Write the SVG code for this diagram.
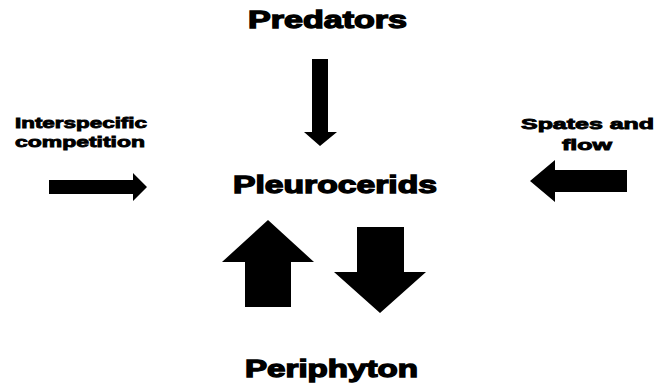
<svg xmlns="http://www.w3.org/2000/svg" width="670" height="385" viewBox="0 0 670 385">
<style>
.big{font-family:"Liberation Sans",Arial,sans-serif;font-weight:bold;font-size:23.5px;fill:#000;stroke:#000;stroke-width:1.3}
.sm{font-family:"Liberation Sans",Arial,sans-serif;font-weight:bold;font-size:15.5px;fill:#000;stroke:#000;stroke-width:0.9}
.arr{fill:#000;stroke:none}
</style>
<rect width="670" height="385" fill="#fff"/>
<g id="predators"><text class="big" x="248" y="28" textLength="159" lengthAdjust="spacingAndGlyphs">Predators</text></g>
<g id="interspecific"><text class="sm" x="15" y="128" textLength="132" lengthAdjust="spacingAndGlyphs">Interspecific</text><text class="sm" x="15" y="147" textLength="130" lengthAdjust="spacingAndGlyphs">competition</text></g>
<g id="spates"><text class="sm" x="521" y="129" textLength="133" lengthAdjust="spacingAndGlyphs">Spates and</text><text class="sm" x="562" y="150" textLength="50" lengthAdjust="spacingAndGlyphs">flow</text></g>
<g id="pleurocerids"><text class="big" x="233" y="193" textLength="204" lengthAdjust="spacingAndGlyphs">Pleurocerids</text></g>
<g id="periphyton"><text class="big" x="245" y="377" textLength="173" lengthAdjust="spacingAndGlyphs">Periphyton</text></g>
<g id="connectors">
<polygon class="arr" points="312,59 328,59 328,132 337,132 320,146 304,132 312,132"/>
<polygon class="arr" points="49,180 133,180 133,173 147,187 133,201 133,194 49,194"/>
<polygon class="arr" points="627,170 555,170 555,160 530,181 555,202 555,192 627,192"/>
<polygon class="arr" points="268,220 314,262 291,262 291,307 245,307 245,262 222,262"/>
<polygon class="arr" points="357,227 404,227 404,272 426,272 380,313 334,272 357,272"/>
</g>
</svg>
